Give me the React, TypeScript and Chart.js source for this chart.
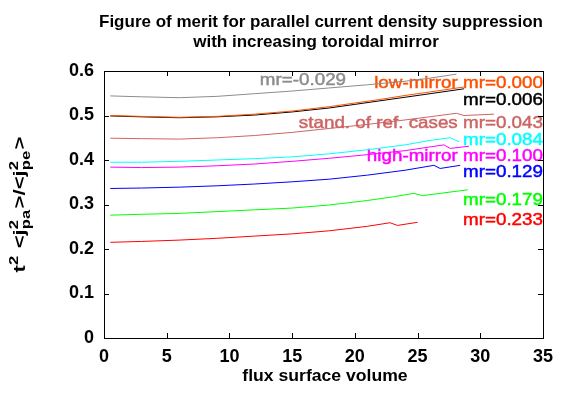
import React, { useEffect, useRef } from "react";
import { Chart, registerables } from "chart.js";

Chart.register(...registerables);

// ---------- data ----------
const xTickValues = [0, 5, 10, 15, 20, 25, 30, 35];
const xTickLabels = ["0", "5", "10", "15", "20", "25", "30", "35"];
const yTickValues = [0, 0.1, 0.2, 0.3, 0.4, 0.5, 0.6];
const yTickLabels = ["0", "0.1", "0.2", "0.3", "0.4", "0.5", "0.6"];

const titleLines = ["Figure of merit for parallel current density suppression", "with increasing toroidal mirror"];
const xTitle = "flux surface volume";

// mr = -0.029 (grey)
const xM029 = [0.5, 3, 6, 9, 12, 15, 18, 21, 24, 26, 28.1];
const yM029 = [0.544, 0.542, 0.54, 0.543, 0.549, 0.555, 0.562, 0.569, 0.577, 0.584, 0.593];
// mr = 0.000 low-mirror (orange)
const x000 = [0.5, 3, 6, 9, 12, 15, 18, 20, 22, 24, 26, 28.7];
const y000 = [0.5, 0.498, 0.496, 0.498, 0.503, 0.51, 0.52, 0.528, 0.536, 0.545, 0.553, 0.564];
// mr = 0.006 (black)
const x006 = [0.5, 3, 6, 9, 12, 15, 18, 20, 22, 24, 26, 28.7];
const y006 = [0.499, 0.497, 0.495, 0.497, 0.501, 0.508, 0.517, 0.525, 0.533, 0.541, 0.549, 0.56];
// mr = 0.043 standard of reference cases
const x043 = [0.5, 3, 6, 9, 12, 15, 18, 21, 24, 26.5, 28.1, 28.7, 31.1];
const y043 = [0.449, 0.448, 0.447, 0.45, 0.455, 0.462, 0.471, 0.48, 0.49, 0.499, 0.505, 0.5, 0.503];
// mr = 0.084 (cyan)
const x084 = [0.5, 3, 6, 9, 12, 15, 18, 21, 24, 26, 27.6, 28.3];
const y084 = [0.395, 0.395, 0.397, 0.4, 0.403, 0.407, 0.414, 0.423, 0.434, 0.444, 0.45, 0.441];
// mr = 0.100 high-mirror (magenta)
const x100 = [0.5, 3, 6, 9, 12, 15, 18, 21, 24, 27.1, 27.6, 29.1];
const y100 = [0.384, 0.383, 0.384, 0.387, 0.391, 0.397, 0.404, 0.412, 0.421, 0.434, 0.426, 0.431];
// mr = 0.129 (blue)
const x129 = [0.5, 3, 6, 9, 12, 15, 18, 21, 24, 26.3, 26.8, 28.4];
const y129 = [0.336, 0.337, 0.339, 0.342, 0.346, 0.351, 0.357, 0.366, 0.377, 0.388, 0.381, 0.388];
// mr = 0.179 (green)
const x179 = [0.5, 3, 6, 9, 12, 15, 18, 21, 23, 24.7, 25.4, 29.0];
const y179 = [0.276, 0.278, 0.28, 0.284, 0.288, 0.292, 0.299, 0.309, 0.317, 0.325, 0.32, 0.333];
// mr = 0.233 (red)
const x233 = [0.5, 3, 6, 9, 12, 15, 18, 21, 22.8, 23.4, 25.0];
const y233 = [0.215, 0.217, 0.22, 0.224, 0.229, 0.234, 0.241, 0.251, 0.259, 0.253, 0.26];

const seriesNames = ["mr=-0.029", "mr=0.000", "mr=0.006", "mr=0.043", "mr=0.084", "mr=0.100", "mr=0.129", "mr=0.179", "mr=0.233"];
const seriesX = [xM029, x000, x006, x043, x084, x100, x129, x179, x233];
const seriesY = [yM029, y000, y006, y043, y084, y100, y129, y179, y233];
const seriesColors = ["#8c8c8c", "#ff5000", "#000000", "#cd6464", "#00ffff", "#ff00ff", "#0000ff", "#00ff00", "#ff0000"];

// annotation labels (text, anchor x = right edge in data units, y = centre in data units)
const labelTexts = ["mr=-0.029", "low-mirror mr=0.000", "mr=0.006", "stand. of ref. cases mr=0.043", "mr=0.084", "high-mirror mr=0.100", "mr=0.129", "mr=0.179", "mr=0.233"];
const labelX = [19.3, 35, 35, 35, 35, 35, 35, 35, 35];
const labelY = [0.578, 0.571, 0.533, 0.482, 0.445, 0.407, 0.372, 0.309, 0.265];

// ---------- styles ----------
const FAMILY = '"Liberation Sans", Arial, Helvetica, sans-serif';

function stretchedText(ctx: CanvasRenderingContext2D, text: string, x: number, y: number, align: CanvasTextAlign, sx: number, stroke = 0) {
  ctx.save();
  ctx.translate(x, y);
  ctx.scale(sx, 1);
  ctx.textAlign = align;
  ctx.fillText(text, 0, 0);
  if (stroke > 0) {
    ctx.lineWidth = stroke;
    ctx.strokeStyle = ctx.fillStyle as string;
    ctx.strokeText(text, 0, 0);
  }
  ctx.restore();
}

const decorPlugin = {
  id: "decor",
  beforeDatasetsDraw(chart: any) {
    const ctx: CanvasRenderingContext2D = chart.ctx;
    const xs = chart.scales.x;
    const ys = chart.scales.y;
    ctx.save();
    ctx.font = `16.5px ${FAMILY}`;
    ctx.textBaseline = "middle";
    labelTexts.forEach((t, i) => {
      ctx.fillStyle = seriesColors[i];
      stretchedText(ctx, t, xs.getPixelForValue(labelX[i]), ys.getPixelForValue(labelY[i]), "right", 1.14, 0.45);
    });
    ctx.restore();
  },
  afterDraw(chart: any) {
    const ctx: CanvasRenderingContext2D = chart.ctx;
    const a = chart.chartArea;
    const xs = chart.scales.x;
    const ys = chart.scales.y;
    ctx.save();
    // frame
    ctx.strokeStyle = "#000";
    ctx.lineWidth = 1;
    ctx.strokeRect(Math.round(a.left) + 0.5, Math.round(a.top) + 0.5, Math.round(a.right - a.left), Math.round(a.bottom - a.top));
    // inner ticks (mirrored)
    const tl = 5;
    ctx.beginPath();
    xTickValues.forEach((v) => {
      const px = Math.round(xs.getPixelForValue(v)) + 0.5;
      ctx.moveTo(px, a.bottom);
      ctx.lineTo(px, a.bottom - tl);
      ctx.moveTo(px, a.top);
      ctx.lineTo(px, a.top + tl);
    });
    yTickValues.forEach((v) => {
      const py = Math.round(ys.getPixelForValue(v)) + 0.5;
      ctx.moveTo(a.left, py);
      ctx.lineTo(a.left + tl, py);
      ctx.moveTo(a.right, py);
      ctx.lineTo(a.right - tl, py);
    });
    ctx.stroke();

    // title
    ctx.fillStyle = "#000";
    ctx.textBaseline = "alphabetic";
    ctx.font = `bold 17px ${FAMILY}`;
    stretchedText(ctx, titleLines[0], 321, 27, "center", 1.0);
    stretchedText(ctx, titleLines[1], 316, 47, "center", 1.0);

    // x title
    ctx.font = `bold 16px ${FAMILY}`;
    stretchedText(ctx, xTitle, 325, 381, "center", 1.1);

    // y title with super/subscripts, rotated
    const mainF = `bold 16px ${FAMILY}`;
    const smallF = `bold 12px ${FAMILY}`;
    type Part = { t?: string; sup?: string; sub?: string };
    const parts: Part[] = [
      { t: "t" },
      { sup: "2" },
      { t: " <j" },
      { sup: "2", sub: "pa" },
      { t: ">/<j" },
      { sup: "2", sub: "pe" },
      { t: ">" },
    ];
    const widths = parts.map((p) => {
      if (p.t) {
        ctx.font = mainF;
        return ctx.measureText(p.t).width;
      }
      ctx.font = smallF;
      return Math.max(p.sup ? ctx.measureText(p.sup).width : 0, p.sub ? ctx.measureText(p.sub).width : 0) + 1;
    });
    const total = widths.reduce((s, w) => s + w, 0);
    const target = 136;
    ctx.save();
    ctx.translate(25, (a.top + a.bottom) / 2);
    ctx.rotate(-Math.PI / 2);
    ctx.scale(target / total, 1);
    ctx.textAlign = "left";
    let cx = -total / 2;
    parts.forEach((p, i) => {
      if (p.t) {
        ctx.font = mainF;
        ctx.fillText(p.t, cx, 0);
      } else {
        ctx.font = smallF;
        if (p.sup) ctx.fillText(p.sup, cx, -7);
        if (p.sub) ctx.fillText(p.sub, cx, 5);
      }
      cx += widths[i];
    });
    ctx.restore();
    ctx.restore();
  },
};

export default function App() {
  const ref = useRef<HTMLCanvasElement | null>(null);
  useEffect(() => {
    if (!ref.current) return;
    const datasets = seriesNames.map((name, i) => ({
      label: name,
      data: seriesX[i].map((x, j) => ({ x, y: seriesY[i][j] })),
      borderColor: seriesColors[i],
      backgroundColor: seriesColors[i],
      borderWidth: 1,
      pointRadius: 0,
      tension: 0,
      fill: false,
    }));
    const tickFont = { family: FAMILY, size: 18, weight: "bold" as const };
    const chart = new Chart(ref.current, {
      type: "line",
      data: { datasets },
      options: {
        animation: false,
        responsive: false,
        devicePixelRatio: 1,
        layout: { padding: { top: 71, right: 14, bottom: 0, left: 0 } },
        plugins: { legend: { display: false }, tooltip: { enabled: false }, title: { display: false } },
        scales: {
          x: {
            type: "linear",
            min: 0,
            max: 35,
            grid: { display: false, drawTicks: false },
            border: { display: false },
            afterBuildTicks: (s: any) => {
              s.ticks = xTickValues.map((v) => ({ value: v }));
            },
            afterFit: (s: any) => {
              s.height = 56;
            },
            ticks: {
              color: "#000",
              font: tickFont,
              padding: 8,
              maxRotation: 0,
              autoSkip: false,
              callback: (v: any) => {
                const i = xTickValues.indexOf(Number(v));
                return i >= 0 ? xTickLabels[i] : "";
              },
            },
          },
          y: {
            type: "linear",
            min: 0,
            max: 0.6,
            grid: { display: false, drawTicks: false },
            border: { display: false },
            afterBuildTicks: (s: any) => {
              s.ticks = yTickValues.map((v) => ({ value: v }));
            },
            afterFit: (s: any) => {
              s.width = 104;
            },
            ticks: {
              color: "#000",
              font: tickFont,
              padding: 10,
              autoSkip: false,
              callback: (v: any) => {
                const i = yTickValues.findIndex((t) => Math.abs(t - Number(v)) < 1e-9);
                return i >= 0 ? yTickLabels[i] : "";
              },
            },
          },
        },
      },
      plugins: [decorPlugin],
    });
    return () => chart.destroy();
  }, []);
  return (
    <div style={{ position: "fixed", left: 0, top: 0, width: 561, height: 394, background: "#fff" }}>
      <canvas ref={ref} width={561} height={394} style={{ width: 561, height: 394, display: "block" }} />
    </div>
  );
}
